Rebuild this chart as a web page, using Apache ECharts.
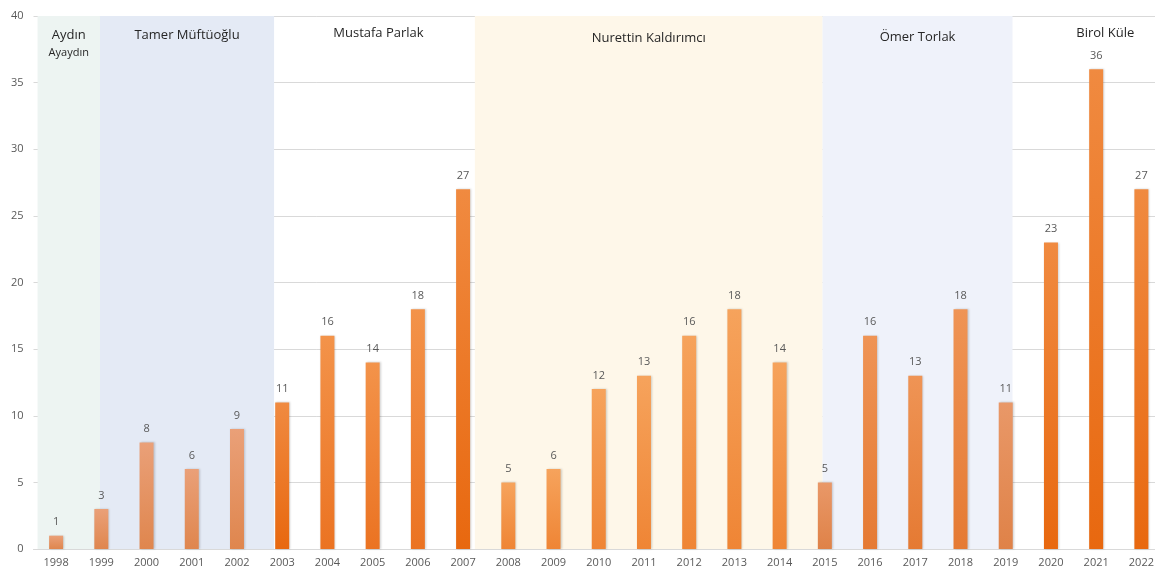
<!DOCTYPE html>
<html>
<head>
<meta charset="utf-8">
<script src="https://cdn.jsdelivr.net/npm/echarts@6/dist/echarts.min.js"></script>
<style>html,body{margin:0;padding:0;background:#fff;overflow:hidden;width:1155px;height:570px}#c{width:1164px;height:570px}</style>
</head>
<body>
<div id="c"></div>
<script>
// ---- data ----
const years = ['1998','1999','2000','2001','2002','2003','2004','2005','2006','2007','2008','2009','2010','2011','2012','2013','2014','2015','2016','2017','2018','2019','2020','2021','2022'];
const values = [1,3,8,6,9,11,16,14,18,27,5,6,12,13,16,18,14,5,16,13,18,11,23,36,27];
const yTicks = [0,5,10,15,20,25,30,35,40];
const bandNames = ['Aydın\nAyaydın','Tamer Müftüoğlu','Mustafa Parlak','Nurettin Kaldırımcı','Ömer Torlak','Birol Küle'];
const bandStart = [-0.41, 0.97, 4.82, 9.26, 16.95, 21.15];
const bandEnd   = [0.97, 4.82, 9.26, 16.95, 21.15, 24.5];

// ---- styles ----
const bandFill = ['#EDF4F2','#E4EAF5','rgba(255,255,255,0)','#FEF7E9','#EFF2FA','rgba(255,255,255,0)'];
const bandLabelOffset = [[0,6],[0,6],[4,4],[0,9],[0,8],[17,4]];
function barTone(i){
  const y = +years[i];
  if (y <= 2002) return ['#EAA078','#DF864E'];
  if (y === 2003 || y === 2007 || y >= 2020) return ['#F08A40','#E8680F'];
  if (y <= 2006) return ['#F3934A','#EB7322'];
  if (y <= 2014) return ['#F6A35C','#EF8535'];
  if (y === 2015 || y === 2019) return ['#E99868','#DF8248'];
  return ['#EF9455','#E57A33'];
}

const chart = echarts.init(document.getElementById('c'));
const font = '"Open Sans", "Noto Sans", sans-serif';

const markData = bandNames.map((n,i)=>[
  {xAxis: bandStart[i], yAxis: yTicks[0], name: n,
   itemStyle:{color: bandFill[i]},
   label:{offset: bandLabelOffset[i]}},
  {xAxis: bandEnd[i], yAxis: yTicks[yTicks.length-1]}
]);

chart.setOption({
  animation:false,
  backgroundColor:'#ffffff',
  grid:{left:33.5, right:0, top:16, bottom:21, containLabel:false},
  xAxis:[
    {type:'category', data:years, boundaryGap:true,
     axisLine:{show:true, lineStyle:{color:'#D9D9D9'}},
     axisTick:{show:false},
     axisLabel:{color:'#595959', fontSize:11, fontFamily:font, margin:8, interval:0}},
    {type:'value', min:-0.5, max:24.5, show:false}
  ],
  yAxis:{type:'value', min:0, max:40, interval:5,
    axisLine:{show:false}, axisTick:{show:false},
    splitLine:{lineStyle:{color:'#D9D9D9', width:1}},
    axisLabel:{color:'#595959', fontSize:11, fontFamily:font, margin:10}},
  series:[
    {type:'scatter', xAxisIndex:1, data:[], z:1, silent:true,
     markArea:{silent:true,
       label:{show:true, position:'insideTop', color:'#262626', fontSize:13, fontFamily:font,
         lineHeight:17,
         formatter:(p)=>{
           const parts = p.name.split('\n');
           return parts.length>1 ? parts[0]+'\n{s|'+parts[1]+'}' : p.name;
         },
         rich:{s:{fontSize:11, color:'#262626', fontFamily:font, lineHeight:17}}},
       data: markData}},
    {type:'bar', xAxisIndex:0, z:3, barWidth:14,
     data: values.map((v,i)=>{
       const t = barTone(i);
       return {value:v, itemStyle:{color:new echarts.graphic.LinearGradient(0,0,0,1,[{offset:0,color:t[0]},{offset:1,color:t[1]}]),
         shadowColor:'rgba(0,0,0,0.18)', shadowBlur:2, shadowOffsetX:1}};
     }),
     label:{show:true, position:'top', distance:8, color:'#595959', fontSize:11, fontFamily:font}}
  ]
});
</script>
</body>
</html>
